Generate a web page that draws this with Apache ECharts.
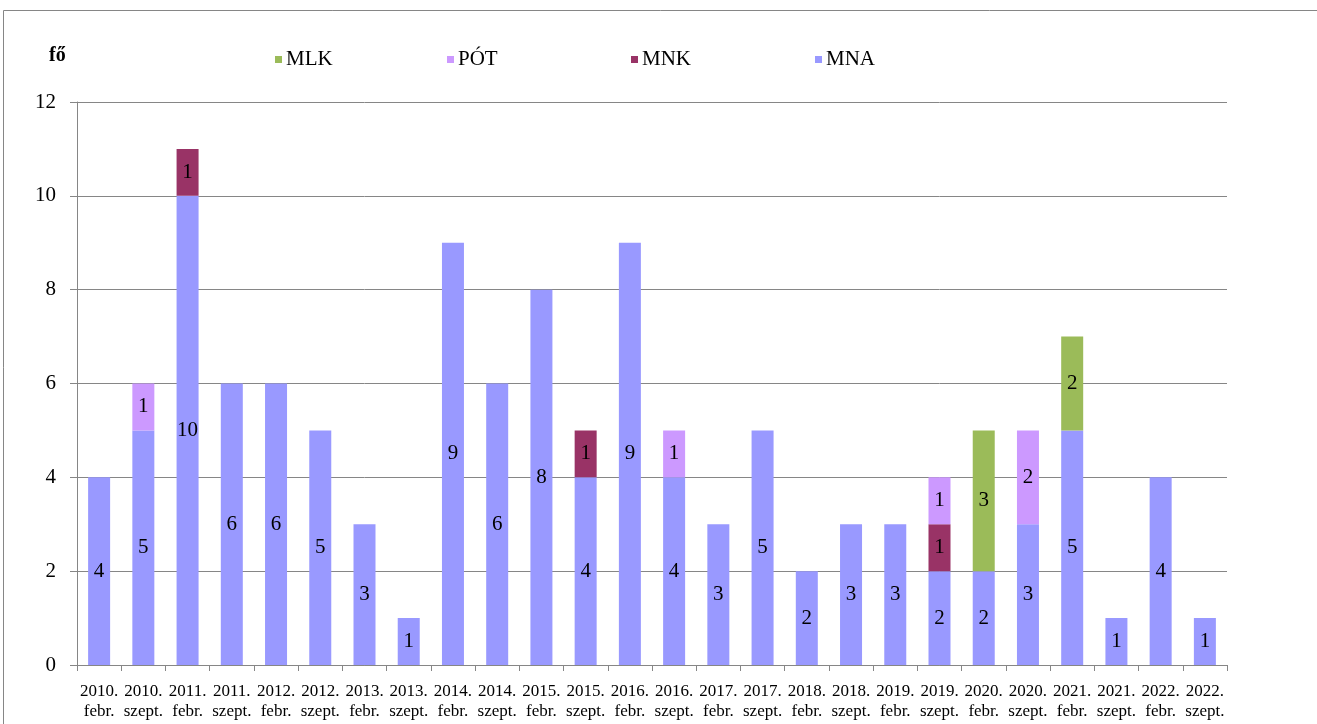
<!DOCTYPE html>
<html><head><meta charset="utf-8">
<script src="https://cdn.jsdelivr.net/npm/echarts@6/dist/echarts.min.js"></script>
<style>html,body{margin:0;padding:0;background:#fff}#c{width:1317px;height:724px}</style>
</head><body><div id="c"></div>
<script>
const categories = ['2010.\nfebr.','2010.\nszept.','2011.\nfebr.','2011.\nszept.','2012.\nfebr.','2012.\nszept.','2013.\nfebr.','2013.\nszept.','2014.\nfebr.','2014.\nszept.','2015.\nfebr.','2015.\nszept.','2016.\nfebr.','2016.\nszept.','2017.\nfebr.','2017.\nszept.','2018.\nfebr.','2018.\nszept.','2019.\nfebr.','2019.\nszept.','2020.\nfebr.','2020.\nszept.','2021.\nfebr.','2021.\nszept.','2022.\nfebr.','2022.\nszept.'];
const MNA = [4,5,10,6,6,5,3,1,9,6,8,4,9,4,3,5,2,3,3,2,2,3,5,1,4,1];
const MNK = [null,null,1,null,null,null,null,null,null,null,null,1,null,null,null,null,null,null,null,1,null,null,null,null,null,null];
const POT = [null,1,null,null,null,null,null,null,null,null,null,null,null,1,null,null,null,null,null,1,null,2,null,null,null,null];
const MLK = [null,null,null,null,null,null,null,null,null,null,null,null,null,null,null,null,null,null,null,null,3,null,2,null,null,null];
const yTicks = [0,2,4,6,8,10,12];

const font = "'Liberation Serif','Times New Roman',serif";
const chart = echarts.init(document.getElementById('c'));
const mk = (name, data, color) => ({
  name, type:'bar', stack:'s', data, barWidth:22,
  itemStyle:{color},
  label:{show:true, position:'inside', color:'#000', fontFamily:font, fontSize:21,
    formatter:p => p.value == null ? '' : p.value}
});
const legendItem = (name, left) => ({
  data:[name], left, top:44, itemWidth:7, itemHeight:7, icon:'rect', itemGap:0,
  textStyle:{fontFamily:font, fontSize:21, color:'#000', padding:[0,0,0,-1]}
});
chart.setOption({
  animation:false,
  textStyle:{fontFamily:font},
  graphic:[
    {type:'rect', shape:{x:3.5,y:10.5,width:1400,height:800}, style:{fill:null, stroke:'#868686', lineWidth:1}},
    {type:'text', left:49, top:46, style:{text:'fő', font:'bold 20px '+font, fill:'#000'}}
  ],
  legend:[legendItem('MLK',270), legendItem('PÓT',442), legendItem('MNK',626), legendItem('MNA',810)],
  grid:{left:77, right:90, top:102, bottom:59},
  xAxis:{type:'category', data:categories,
    axisLine:{lineStyle:{color:'#868686'}},
    axisTick:{show:true, alignWithLabel:false, length:6, lineStyle:{color:'#868686'}},
    axisLabel:{interval:0, fontFamily:font, fontSize:17, color:'#000', lineHeight:20, margin:17}
  },
  yAxis:{type:'value', min:yTicks[0], max:yTicks[yTicks.length-1], interval:2,
    axisLine:{show:true, lineStyle:{color:'#868686'}},
    axisTick:{show:true, length:7, lineStyle:{color:'#868686'}},
    splitLine:{lineStyle:{color:'#868686'}},
    axisLabel:{fontFamily:font, fontSize:21, color:'#000', margin:21}
  },
  series:[mk('MNA',MNA,'#9999FF'), mk('MNK',MNK,'#993366'), mk('PÓT',POT,'#CC99FF'), mk('MLK',MLK,'#9BBB59')]
});
</script></body></html>
